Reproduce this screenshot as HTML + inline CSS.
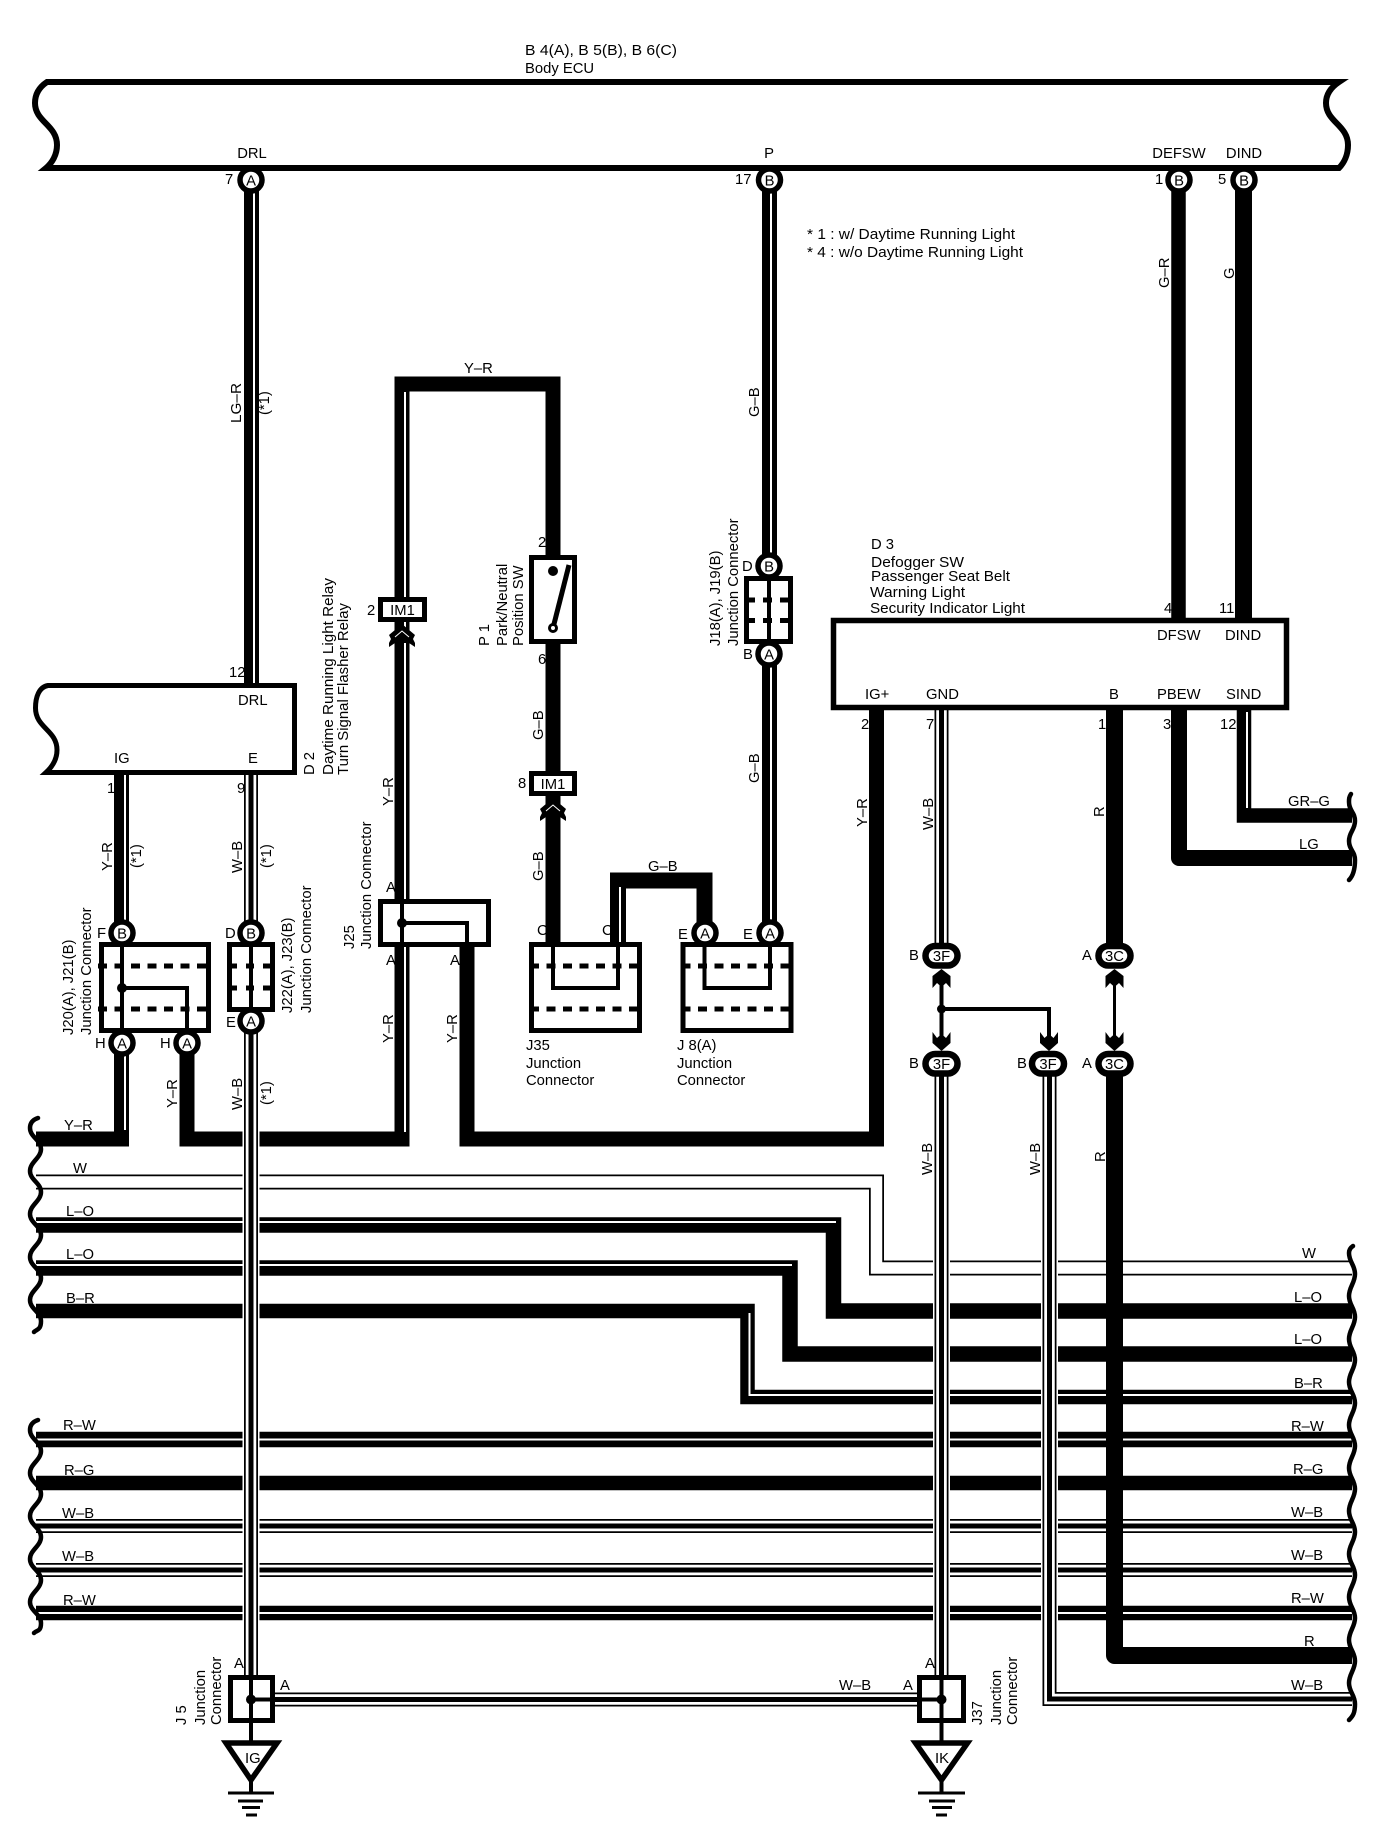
<!DOCTYPE html>
<html><head><meta charset="utf-8"><style>
html,body{margin:0;padding:0;background:#fff}
svg{display:block}
text{font-family:"Liberation Sans",Arial,sans-serif;font-size:14.8px;fill:#000}
.m{text-anchor:middle}
.w{fill:none;stroke:#000;stroke-linejoin:miter}
.s{fill:none;stroke:#fff;stroke-width:2}
.b{fill:#fff;stroke:#000;stroke-width:5;stroke-linejoin:miter}
.i{fill:none;stroke:#000;stroke-width:4}
.d{fill:none;stroke:#000;stroke-width:5}
.c{fill:#fff;stroke:#000;stroke-width:5.5}
.o{fill:#fff;stroke:#000;stroke-width:6.5}
.wv{fill:none;stroke:#000;stroke-width:4.5;stroke-linecap:round}
.k0{fill:none;stroke:#fff;stroke-width:17}
.k1{fill:none;stroke:#000;stroke-width:14}
.k2{fill:none;stroke:#fff;stroke-width:10.5}
.k3{fill:none;stroke:#000;stroke-width:5}
</style></head><body>
<svg xmlns="http://www.w3.org/2000/svg" width="1392" height="1840" viewBox="0 0 1392 1840">
<defs>
<path id="up" d="M0 -1L9 6V18L4.500 13L0 17L-4.500 13L-9 18V6Z"/>
<path id="dn" d="M-9 -18L-4.500 -12L0 -16L4.500 -12L9 -18V-7L0 1L-9 -7Z"/>
<g id="chev"><path d="M0 2L13 13L11 17L13 21V25L7 21H-7L-13 25V21L-11 17L-13 13Z"/><path d="M-7 15L0 9L7 15" fill="none" stroke="#fff" stroke-width="1"/></g>
<path id="wb1" d="M251 775V935"/>
<path id="wb2" d="M251 1030V1680"/>
<path id="wb3" d="M36 1526H1352"/>
<path id="wb4" d="M36 1570H1352"/>
<path id="wb5" d="M941.500 708V950"/>
<path id="wb6" d="M941.500 1072V1678"/>
<path id="wb7" d="M1049.500 1075V1699H1352"/>
<path id="wb8" d="M274 1699.500H919"/>
<path id="wlo" d="M36 1182H876.500V1268H1352"/>
</defs>
<rect width="1392" height="1840" fill="#fff"/>

<!-- horizontal wires -->
<use href="#wlo" class="w" style="stroke-width:15"/>
<use href="#wlo" style="fill:none;stroke:#fff;stroke-width:11.500"/>
<path class="w" stroke-width="15.500" d="M36 1225H833.500V1311H1352"/>
<path class="s" d="M36 1222H836"/>
<path class="w" stroke-width="15.500" d="M36 1268H790V1354H1352"/>
<path class="s" d="M36 1265H792"/>
<path class="w" stroke-width="14.500" d="M36 1311H747.500V1397H1352"/>
<path class="s" d="M749.500 1313V1395H1352"/>
<path class="w" stroke-width="15.500" d="M36 1439.500H1352"/><path class="s" d="M36 1439.500H1352"/>
<path class="w" stroke-width="14.500" d="M36 1483H1352"/>
<path class="w" stroke-width="14.500" d="M36 1613H1352"/><path class="s" d="M36 1613H1352"/>
<use href="#wb3" class="k1"/><use href="#wb3" class="k2"/><use href="#wb3" class="k3"/>
<use href="#wb4" class="k1"/><use href="#wb4" class="k2"/><use href="#wb4" class="k3"/>

<!-- Y-R network -->
<path class="w" stroke-width="15" d="M36 1139H121.500V1050"/>
<path class="s" d="M125 1056V1130"/>
<path class="w" stroke-width="15" d="M187 1050V1139H402V384H553V942"/>
<path class="s" d="M405 392V1132"/>
<path class="w" stroke-width="15" d="M467 945V1139H876.500V708"/>

<!-- verticals with casing -->
<use href="#wb2" class="k0"/><use href="#wb2" class="k1"/><use href="#wb2" class="k2"/><use href="#wb2" class="k3"/>
<use href="#wb6" class="k0"/><use href="#wb6" class="k1"/><use href="#wb6" class="k2"/><use href="#wb6" class="k3"/>
<path class="k0" d="M1049.500 1075V1706"/>
<use href="#wb7" class="k1"/><use href="#wb7" class="k2"/><use href="#wb7" class="k3"/>
<use href="#wb1" class="k1"/><use href="#wb1" class="k2"/><use href="#wb1" class="k3"/>
<use href="#wb5" class="k1"/><use href="#wb5" class="k2"/><use href="#wb5" class="k3"/>
<use href="#wb8" class="k1"/><use href="#wb8" class="k2"/><use href="#wb8" class="k3"/>

<!-- other wires -->
<path class="w" stroke-width="15" d="M251.500 168V688"/><path class="s" d="M254 190V683"/>
<path class="w" stroke-width="15" d="M121.500 772V925"/><path class="s" d="M125 775V925"/>
<path class="w" stroke-width="15" d="M769.500 170V940"/><path class="s" d="M771 190V925"/>
<path class="w" stroke-width="16" d="M618 945V880.500H704.500V925"/><path class="s" d="M620 887V942"/>
<path class="w" stroke-width="14.500" d="M1178.500 168V622"/>
<path class="w" stroke-width="17" d="M1243.500 168V622"/>
<path class="w" stroke-width="16" style="stroke-linejoin:round" d="M1179 708V858H1352"/>
<path class="w" stroke-width="14.500" d="M1244 708V815.500H1352"/><path class="s" d="M1247 712V808"/>
<path class="w" stroke-width="17" d="M1114.500 708V950"/>
<path class="w" stroke-width="17" style="stroke-linejoin:round" d="M1114.500 1075V1655.500H1352"/>

<!-- ECU -->
<path d="M47 82H1339C1330 88 1326 95 1326 103C1326 122 1348 125 1348 145C1348 155 1344 163 1339 168H46C52 163 57 155 57 145C57 125 35 122 35 103C35 95 38 88 47 82Z" fill="none" stroke="#000" stroke-width="6"/>
<text x="525" y="55" textLength="152" lengthAdjust="spacingAndGlyphs">B 4(A), B 5(B), B 6(C)</text>
<text x="525" y="73">Body ECU</text>
<text class="m" x="252" y="158">DRL</text>
<text class="m" x="769" y="158">P</text>
<text class="m" x="1179" y="158">DEFSW</text>
<text class="m" x="1244" y="158">DIND</text>
<text x="225" y="184">7</text><text x="735" y="184">17</text><text x="1155" y="184">1</text><text x="1218" y="184">5</text>

<circle class="c" cx="251" cy="180" r="11"/><text class="m" x="251" y="185.500">A</text>
<circle class="c" cx="769.500" cy="180" r="11"/><text class="m" x="769.500" y="185.500">B</text>
<circle class="c" cx="1179" cy="180" r="11"/><text class="m" x="1179" y="185.500">B</text>
<circle class="c" cx="1244" cy="180" r="11"/><text class="m" x="1244" y="185.500">B</text>

<text x="807" y="239" textLength="208" lengthAdjust="spacingAndGlyphs">* 1 : w/ Daytime Running Light</text>
<text x="807" y="257" textLength="216" lengthAdjust="spacingAndGlyphs">* 4 : w/o Daytime Running Light</text>

<text transform="translate(241 423) rotate(-90)" textLength="40" lengthAdjust="spacingAndGlyphs">LG–R</text>
<text transform="translate(269 415) rotate(-90)">(*1)</text>
<text x="464" y="373">Y–R</text>
<text transform="translate(1169 288) rotate(-90)">G–R</text>
<text transform="translate(1234 279) rotate(-90)">G</text>
<text transform="translate(759 417) rotate(-90)">G–B</text>

<!-- IM1 top -->
<use href="#chev" x="402" y="622"/>
<rect class="b" x="380.500" y="599.500" width="44" height="20"/>
<text class="m" x="402.500" y="615">IM1</text>
<text x="367" y="615">2</text>

<!-- IM1 lower -->
<use href="#chev" x="553" y="796"/>
<rect class="b" x="531.500" y="773.500" width="43" height="20"/>
<text class="m" x="553" y="789">IM1</text>
<text x="518" y="788">8</text>

<!-- P1 -->
<rect class="b" x="531.500" y="557.500" width="43" height="84"/>
<circle cx="553" cy="571" r="5"/>
<path d="M553 628L569 565" stroke="#000" stroke-width="5" fill="none"/>
<circle cx="553" cy="628" r="3.500" fill="#fff" stroke="#000" stroke-width="3"/>
<text x="538" y="547">2</text><text x="538" y="664">6</text>
<text transform="translate(489 646) rotate(-90)">P 1</text>
<text transform="translate(507 646) rotate(-90)">Park/Neutral</text>
<text transform="translate(523 646) rotate(-90)">Position SW</text>
<text transform="translate(543 740) rotate(-90)">G–B</text>
<text transform="translate(543 881) rotate(-90)">G–B</text>
<text x="648" y="871">G–B</text>

<!-- J18 -->
<rect class="b" x="746.500" y="578.500" width="44" height="63"/>
<path class="i" d="M769 578V642"/>
<path class="d" stroke-dasharray="9 8" d="M746 600H790M746 620.500H790"/>
<circle class="c" cx="769" cy="566" r="11"/><text class="m" x="769" y="571.500">B</text>
<circle class="c" cx="769" cy="654" r="11"/><text class="m" x="769" y="659.500">A</text>
<text x="742" y="571">D</text><text x="743" y="659">B</text>
<text transform="translate(720 646) rotate(-90)">J18(A), J19(B)</text>
<text transform="translate(738 646) rotate(-90)">Junction Connector</text>
<text transform="translate(759 783) rotate(-90)">G–B</text>

<!-- D2 -->
<path d="M48 685.500H294.500V772.500H46C52 767 57 760 57 750C57 730 35.500 728 35.500 708C35.500 697 39 687 48 685.500Z" fill="none" stroke="#000" stroke-width="5"/>
<text x="238" y="705">DRL</text><text x="114" y="763">IG</text><text x="248" y="763">E</text>
<text x="229" y="677">12</text><text x="107" y="793">1</text><text x="237" y="793">9</text>
<text transform="translate(314 775) rotate(-90)">D 2</text>
<text transform="translate(333 775) rotate(-90)" textLength="197" lengthAdjust="spacingAndGlyphs">Daytime Running Light Relay</text>
<text transform="translate(348 775) rotate(-90)" textLength="172" lengthAdjust="spacingAndGlyphs">Turn Signal Flasher Relay</text>

<text transform="translate(112 871) rotate(-90)">Y–R</text>
<text transform="translate(141 868) rotate(-90)">(*1)</text>
<text transform="translate(242 873) rotate(-90)">W–B</text>
<text transform="translate(271 868) rotate(-90)">(*1)</text>
<text transform="translate(242 1110) rotate(-90)">W–B</text>
<text transform="translate(271 1105) rotate(-90)">(*1)</text>
<text transform="translate(177 1108) rotate(-90)">Y–R</text>
<text transform="translate(393 806) rotate(-90)">Y–R</text>
<text transform="translate(393 1043) rotate(-90)">Y–R</text>
<text transform="translate(457 1043) rotate(-90)">Y–R</text>

<!-- J20 -->
<rect class="b" x="101.500" y="944.500" width="107" height="86"/>
<path class="d" stroke-dasharray="9 7.500" d="M98 966H208M98 1009H208"/>
<path class="i" d="M122 944V1031M122 988H187V1031"/>
<circle cx="122" cy="988" r="5"/>
<circle class="c" cx="122" cy="933" r="11"/><text class="m" x="122" y="938.500">B</text>
<circle class="c" cx="122" cy="1043" r="11"/><text class="m" x="122" y="1048.500">A</text>
<circle class="c" cx="187" cy="1043" r="11"/><text class="m" x="187" y="1048.500">A</text>
<text x="97" y="938">F</text><text x="95" y="1048">H</text><text x="160" y="1048">H</text>
<text transform="translate(73 1035) rotate(-90)">J20(A), J21(B)</text>
<text transform="translate(91 1035) rotate(-90)">Junction Connector</text>

<!-- J22 -->
<rect class="b" x="229.500" y="944.500" width="43" height="65"/>
<path class="i" d="M251 944V1010"/>
<path class="d" stroke-dasharray="8 9" d="M229 966H272M229 988H272"/>
<circle class="c" cx="251" cy="933" r="11"/><text class="m" x="251" y="938.500">B</text>
<circle class="c" cx="251" cy="1021" r="11"/><text class="m" x="251" y="1026.500">A</text>
<text x="225" y="938">D</text><text x="226" y="1027">E</text>
<text transform="translate(292 1013) rotate(-90)">J22(A), J23(B)</text>
<text transform="translate(311 1013) rotate(-90)">Junction Connector</text>

<!-- J25 -->
<rect class="b" x="380.500" y="901.500" width="108" height="43"/>
<path class="i" d="M402 900V946M402 923H467V946"/>
<circle cx="402" cy="923" r="5"/>
<text x="386" y="892">A</text><text x="386" y="965">A</text><text x="450" y="965">A</text>
<text transform="translate(354 949) rotate(-90)">J25</text>
<text transform="translate(371 949) rotate(-90)">Junction Connector</text>

<!-- J35 -->
<rect class="b" x="531.500" y="944.500" width="108" height="86"/>
<path class="d" stroke-dasharray="9 7.500" d="M530 966H640M530 1009H640"/>
<path class="i" d="M553 944V988H618V944"/>
<text x="537" y="935">C</text><text x="602" y="935">C</text>
<text x="526" y="1050">J35</text><text x="526" y="1068">Junction</text><text x="526" y="1085">Connector</text>

<!-- J8 -->
<rect class="b" x="683" y="944.500" width="108" height="86"/>
<path class="d" stroke-dasharray="9 7.500" d="M681.500 966H791M681.500 1009H791"/>
<path class="i" d="M704.500 944V988H770V944"/>
<circle class="c" cx="705" cy="933" r="11"/><text class="m" x="705" y="938.500">A</text>
<circle class="c" cx="770" cy="933" r="11"/><text class="m" x="770" y="938.500">A</text>
<text x="678" y="939">E</text><text x="743" y="939">E</text>
<text x="677" y="1050">J 8(A)</text><text x="677" y="1068">Junction</text><text x="677" y="1085">Connector</text>

<!-- D3 -->
<rect x="833.500" y="620.500" width="453" height="87" fill="#fff" stroke="#000" stroke-width="5.500"/>
<text x="871" y="549">D 3</text>
<text x="871" y="567" textLength="93" lengthAdjust="spacingAndGlyphs">Defogger SW</text>
<text x="871" y="581" textLength="139" lengthAdjust="spacingAndGlyphs">Passenger Seat Belt</text>
<text x="870" y="597" textLength="95" lengthAdjust="spacingAndGlyphs">Warning Light</text>
<text x="870" y="613" textLength="155" lengthAdjust="spacingAndGlyphs">Security Indicator Light</text>
<text x="1157" y="640">DFSW</text><text x="1225" y="640">DIND</text>
<text x="865" y="699">IG+</text><text x="926" y="699">GND</text><text x="1109" y="699">B</text>
<text x="1157" y="699">PBEW</text><text x="1226" y="699">SIND</text>
<text x="1164" y="613">4</text><text x="1219" y="613">11</text>
<text x="861" y="729">2</text><text x="926" y="729">7</text><text x="1098" y="729">1</text><text x="1163" y="729">3</text><text x="1220" y="729">12</text>
<text transform="translate(867 827) rotate(-90)">Y–R</text>
<text transform="translate(933 830) rotate(-90)">W–B</text>
<text transform="translate(1104 817) rotate(-90)">R</text>
<text x="1288" y="806">GR–G</text><text x="1299" y="849">LG</text>

<!-- 3F / 3C -->
<path class="i" d="M941.500 980V1040M941.500 1009H1049V1040"/>
<path d="M1114.500 980V1040" fill="none" stroke="#000" stroke-width="3"/>
<circle cx="941.500" cy="1009" r="4.500"/>
<use href="#up" x="941.500" y="970"/><use href="#up" x="1114.500" y="970"/>
<use href="#dn" x="941.500" y="1050"/><use href="#dn" x="1049" y="1050"/><use href="#dn" x="1114.500" y="1050"/>
<rect class="o" x="925.500" y="946" width="32" height="19.500" rx="9.750"/><text class="m" x="941.500" y="961">3F</text>
<rect class="o" x="925.500" y="1054" width="32" height="19.500" rx="9.750"/><text class="m" x="941.500" y="1069">3F</text>
<rect class="o" x="1032" y="1054" width="32" height="19.500" rx="9.750"/><text class="m" x="1048" y="1069">3F</text>
<rect class="o" x="1098.500" y="946" width="32" height="19.500" rx="9.750"/><text class="m" x="1114.500" y="961">3C</text>
<rect class="o" x="1098.500" y="1054" width="32" height="19.500" rx="9.750"/><text class="m" x="1114.500" y="1069">3C</text>
<text x="909" y="960">B</text><text x="909" y="1068">B</text><text x="1017" y="1068">B</text>
<text x="1082" y="960">A</text><text x="1082" y="1068">A</text>
<text transform="translate(932 1175) rotate(-90)">W–B</text>
<text transform="translate(1040 1175) rotate(-90)">W–B</text>
<text transform="translate(1105 1162) rotate(-90)">R</text>

<!-- left waves -->
<path class="wv" d="M38 1118C32 1120 30 1124 30 1128C30 1137 41 1140 41 1149S30 1162 30 1171S41 1183 41 1192S30 1205 30 1214S41 1226 41 1235S30 1248 30 1257S41 1269 41 1278S30 1291 30 1300S41 1312 41 1321S37 1329 34 1332"/>
<path class="wv" d="M38 1420C32 1422 30 1426 30 1430C30 1439 41 1442 41 1451S30 1464 30 1473S41 1485 41 1494S30 1507 30 1516S41 1528 41 1537S30 1550 30 1559S41 1571 41 1580S30 1593 30 1602S41 1614 41 1623S37 1630 34 1633"/>
<text x="64" y="1130">Y–R</text><text x="73" y="1173">W</text><text x="66" y="1216">L–O</text><text x="66" y="1259">L–O</text><text x="66" y="1303">B–R</text>
<text x="63" y="1430">R–W</text><text x="64" y="1475">R–G</text><text x="62" y="1518">W–B</text><text x="62" y="1561">W–B</text><text x="63" y="1605">R–W</text>

<!-- right waves -->
<path class="wv" d="M1353 1246C1350 1248 1349 1250 1349 1253C1349 1262 1355 1265 1355 1274S1349 1287 1349 1296S1355 1308 1355 1317S1349 1330 1349 1339S1355 1351 1355 1360S1349 1373 1349 1382S1355 1394 1355 1403S1349 1416 1349 1425S1355 1437 1355 1446S1349 1459 1349 1468S1355 1480 1355 1489S1349 1502 1349 1511S1355 1523 1355 1532S1349 1545 1349 1554S1355 1566 1355 1575S1349 1588 1349 1597S1355 1609 1355 1618S1349 1631 1349 1640S1355 1652 1355 1661S1349 1674 1349 1683S1355 1695 1355 1704S1353 1716 1349 1720"/>
<path class="wv" d="M1351 794C1349 797 1349 799 1349 802C1349 811 1355 812 1355 821S1349 832 1349 841S1355 851 1355 860S1353 876 1349 880"/>
<text x="1302" y="1258">W</text><text x="1294" y="1302">L–O</text><text x="1294" y="1344">L–O</text><text x="1294" y="1388">B–R</text>
<text x="1291" y="1431">R–W</text><text x="1293" y="1474">R–G</text><text x="1291" y="1517">W–B</text><text x="1291" y="1560">W–B</text><text x="1291" y="1603">R–W</text>
<text x="1304" y="1646">R</text><text x="1291" y="1690">W–B</text>

<!-- J5 -->
<path d="M251 1720V1745" stroke="#000" stroke-width="4" fill="none"/>
<rect class="b" x="230.500" y="1677.500" width="42" height="43"/>
<path class="i" d="M251 1677V1721M251 1699.500H272"/>
<circle cx="251" cy="1699.500" r="5"/>
<path d="M226 1743H277L251 1780Z" fill="#fff" stroke="#000" stroke-width="5.500"/>
<text x="245" y="1763">IG</text>
<path d="M251 1780V1793" stroke="#000" stroke-width="4"/>
<path d="M228 1793H274" stroke="#000" stroke-width="3"/>
<path d="M238 1801H263M242 1807.500H260M246 1815H257" stroke="#000" stroke-width="3"/>
<text x="234" y="1668">A</text><text x="280" y="1690">A</text>
<text transform="translate(186 1725) rotate(-90)">J 5</text>
<text transform="translate(205 1725) rotate(-90)">Junction</text>
<text transform="translate(221 1725) rotate(-90)">Connector</text>

<!-- J37 -->
<path d="M941.500 1720V1745" stroke="#000" stroke-width="4" fill="none"/>
<rect class="b" x="919.500" y="1677.500" width="44" height="43"/>
<path class="i" d="M941.500 1677V1721M919 1699.500H941.500"/>
<circle cx="941.500" cy="1699.500" r="5"/>
<path d="M915.500 1743H967.500L941.500 1780Z" fill="#fff" stroke="#000" stroke-width="5.500"/>
<text x="935" y="1763">IK</text>
<path d="M941.500 1780V1793" stroke="#000" stroke-width="4"/>
<path d="M918 1793H965" stroke="#000" stroke-width="3"/>
<path d="M929 1801H955M932 1807.500H952M936 1815H947" stroke="#000" stroke-width="3"/>
<text x="925" y="1668">A</text><text x="903" y="1690">A</text>
<text x="839" y="1690">W–B</text>
<text transform="translate(982 1725) rotate(-90)">J37</text>
<text transform="translate(1001 1725) rotate(-90)">Junction</text>
<text transform="translate(1017 1725) rotate(-90)">Connector</text>
</svg>
</body></html>
